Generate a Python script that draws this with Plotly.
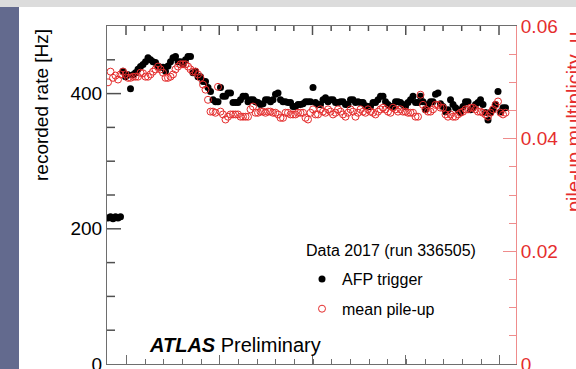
import plotly.graph_objects as go

# ---------------- data ----------------
lumi_block = list(range(160))

afp_rate_hz = [
    216, 218, 215, 218, 216, 218, 433, 425, 428, 407,
    428, 431, 436, 440, 443, 447, 453, 450, 447, 446,
    441, 439, 439, 433, 441, 447, 453, 455, 447, 447,
    443, 450, 455, 455, 431, 433, 425, 425, 418, 418,
    409, 403, 391, 388, 388, 409, 396, 396, 401, 401,
    387, 387, 387, 391, 396, 396, 388, 391, 391, 388,
    387, 384, 385, 391, 391, 388, 391, 399, 401, 391,
    388, 388, 387, 387, 381, 381, 384, 384, 385, 388,
    388, 388, 409, 387, 384, 384, 391, 394, 388, 391,
    391, 387, 387, 388, 388, 384, 384, 391, 391, 387,
    388, 387, 387, 382, 381, 381, 387, 387, 391, 396,
    396, 388, 384, 381, 381, 388, 388, 387, 384, 381,
    387, 391, 396, 387, 387, 396, 388, 376, 384, 388,
    388, 399, 401, 385, 381, 373, 376, 391, 384, 379,
    376, 372, 381, 388, 388, 376, 379, 384, 387, 391,
    384, 372, 361, 372, 376, 384, 403, 373, 379, 379,
]

mean_pileup = [
    0.0500, 0.0519, 0.0508, 0.0512, 0.0505, 0.0514, 0.0519, 0.0514, 0.0508, 0.0508,
    0.0510, 0.0510, 0.0510, 0.0517, 0.0516, 0.0510, 0.0510, 0.0514, 0.0519, 0.0523,
    0.0528, 0.0523, 0.0517, 0.0508, 0.0508, 0.0510, 0.0514, 0.0523, 0.0528, 0.0532,
    0.0532, 0.0532, 0.0528, 0.0523, 0.0519, 0.0519, 0.0514, 0.0508, 0.0496, 0.0487,
    0.0469, 0.0448, 0.0448, 0.0446, 0.0492, 0.0448, 0.0443, 0.0434, 0.0439, 0.0443,
    0.0443, 0.0443, 0.0443, 0.0439, 0.0439, 0.0439, 0.0439, 0.0452, 0.0457, 0.0446,
    0.0446, 0.0448, 0.0448, 0.0446, 0.0448, 0.0448, 0.0446, 0.0446, 0.0443, 0.0437,
    0.0437, 0.0446, 0.0446, 0.0443, 0.0443, 0.0443, 0.0446, 0.0446, 0.0446, 0.0437,
    0.0434, 0.0446, 0.0452, 0.0443, 0.0443, 0.0452, 0.0448, 0.0446, 0.0452, 0.0448,
    0.0443, 0.0446, 0.0452, 0.0448, 0.0443, 0.0439, 0.0446, 0.0452, 0.0448, 0.0439,
    0.0446, 0.0452, 0.0448, 0.0446, 0.0452, 0.0448, 0.0446, 0.0443, 0.0448, 0.0452,
    0.0455, 0.0452, 0.0448, 0.0446, 0.0455, 0.0452, 0.0448, 0.0452, 0.0448, 0.0448,
    0.0446, 0.0446, 0.0446, 0.0439, 0.0439, 0.0478, 0.0460, 0.0452, 0.0448, 0.0448,
    0.0452, 0.0460, 0.0460, 0.0455, 0.0455, 0.0443, 0.0439, 0.0443, 0.0439, 0.0439,
    0.0443, 0.0446, 0.0448, 0.0452, 0.0452, 0.0455, 0.0455, 0.0452, 0.0448, 0.0448,
    0.0446, 0.0443, 0.0439, 0.0446, 0.0452, 0.0460, 0.0466, 0.0446, 0.0443, 0.0446,
]

left_tick_step = 200
left_minor_step = 50
right_tick_step = 0.02
x_tick0 = 7.2
x_tick_step = 37.3
x_minor_per_major = 5

series_names = ["AFP trigger", "mean pile-up"]
legend_header = "Data 2017 (run 336505)"
left_title = "recorded rate [Hz]"
right_title = "pile-up multiplicity  μ"

# ---------------- style ----------------
FONT = "Liberation Sans, Arial, Helvetica, sans-serif"
RED = "#e52d2d"
RED_LIGHT = "#ef8c8c"
GRAY = "#6e6e6e"
TICK = "#505050"

W, H = 576, 369
L, R, T, B = 107, 60, 26, 5
PW, PH = W - L - R, H - T - B
X_RANGE = [-0.4, 163.2]
Y_RANGE = [0, 500]


def px_x(px):
    return (px - L) / PW


def px_y(py):
    return (H - B - py) / PH


fig = go.Figure()

fig.add_trace(go.Scatter(
    x=lumi_block, y=afp_rate_hz, mode="markers", name=series_names[0],
    legendgroup="a",
    marker=dict(symbol="circle", size=7, color="black", line=dict(width=0)),
    yaxis="y",
))
fig.add_trace(go.Scatter(
    x=lumi_block, y=mean_pileup, mode="markers", name=series_names[1],
    legendgroup="b",
    marker=dict(symbol="circle-open", size=7, color=RED, line=dict(width=1, color=RED)),
    yaxis="y2",
))

fig.update_layout(
    template="none",
    width=W, height=H,
    margin=dict(l=L, r=R, t=T, b=B, pad=0, autoexpand=False),
    paper_bgcolor="white", plot_bgcolor="white",
    font=dict(family=FONT, size=19, color="black"),
    showlegend=True,
    legend=dict(
        x=px_x(302), y=px_y(262), xanchor="left", yanchor="top",
        bgcolor="rgba(0,0,0,0)", borderwidth=0,
        font=dict(family=FONT, size=16, color="black"),
        traceorder="grouped", tracegroupgap=6,
        itemwidth=30,
    ),
    xaxis=dict(
        range=X_RANGE, showgrid=False, zeroline=False, automargin=False,
        showline=True, linecolor=GRAY, linewidth=1, mirror=True,
        ticks="inside", ticklen=9, tickcolor=GRAY, tickwidth=1,
        tick0=x_tick0, dtick=x_tick_step, showticklabels=False,
        minor=dict(ticks="inside", ticklen=5, tickcolor=GRAY, tickwidth=1,
                   dtick=x_tick_step / x_minor_per_major),
    ),
    yaxis=dict(
        range=Y_RANGE, showgrid=False, zeroline=False, automargin=False,
        showline=True, linecolor=GRAY, linewidth=1,
        ticks="", dtick=left_tick_step,
        ticklabeloverflow="allow",
        tickfont=dict(family=FONT, size=19, color="black"),
    ),
    yaxis2=dict(
        range=[0, 0.0600001], overlaying="y", side="right", automargin=False,
        showgrid=False, zeroline=False,
        showline=True, linecolor=RED_LIGHT, linewidth=1,
        ticks="inside", ticklen=13, tickcolor=RED_LIGHT, tickwidth=1,
        dtick=right_tick_step,
        ticklabeloverflow="allow",
        tickfont=dict(family=FONT, size=19, color=RED),
        minor=dict(ticks="inside", ticklen=7, tickcolor=RED_LIGHT, dtick=0.005),
    ),
)

# background bands of the original slide
fig.add_shape(type="rect", xref="paper", yref="paper",
              x0=px_x(0), x1=px_x(W), y0=px_y(7), y1=px_y(0),
              fillcolor="#dcdcdc", line=dict(width=0), layer="below")
fig.add_shape(type="rect", xref="paper", yref="paper",
              x0=px_x(0), x1=px_x(19), y0=px_y(H), y1=px_y(7),
              fillcolor="#636a8e", line=dict(width=0), layer="below")

# inward tick marks on the left (rate) axis, placed through the y scale
v = left_minor_step
while v < Y_RANGE[1]:
    major = (v % left_tick_step == 0)
    length = 14 if major else 8
    fig.add_shape(type="line", xref="paper", yref="y",
                  x0=0, x1=length / PW, y0=v, y1=v,
                  line=dict(color=TICK, width=1.5), layer="above")
    v += left_minor_step

# inward tick marks on the top frame, placed through the x scale
k = 0
while True:
    xv = x_tick0 + k * x_tick_step / x_minor_per_major
    if xv > X_RANGE[1]:
        break
    major = (k % x_minor_per_major == 0)
    length = 9 if major else 5
    fig.add_shape(type="line", xref="x", yref="paper",
                  x0=xv, x1=xv, y0=1, y1=1 - length / PH,
                  line=dict(color=TICK, width=1.5), layer="above")
    k += 1

# texts
fig.add_annotation(text=left_title, textangle=-90, xref="paper", yref="paper",
                   x=px_x(41), y=px_y(27), xanchor="center", yanchor="top",
                   showarrow=False, font=dict(family=FONT, size=19, color="black"))
fig.add_annotation(text=right_title, textangle=-90, xref="paper", yref="paper",
                   x=px_x(561), y=px_y(30), xanchor="left", yanchor="top",
                   showarrow=False, font=dict(family=FONT, size=20, color=RED))
fig.add_annotation(text=legend_header, xref="paper", yref="paper",
                   x=px_x(304), y=px_y(250), xanchor="left", yanchor="middle",
                   showarrow=False, font=dict(family=FONT, size=16, color="black"))
fig.add_annotation(text="<b><i>ATLAS</i></b> Preliminary", xref="paper", yref="paper",
                   x=px_x(147), y=px_y(345), xanchor="left", yanchor="middle",
                   showarrow=False, font=dict(family=FONT, size=20, color="black"))

fig.write_html("out.html")
